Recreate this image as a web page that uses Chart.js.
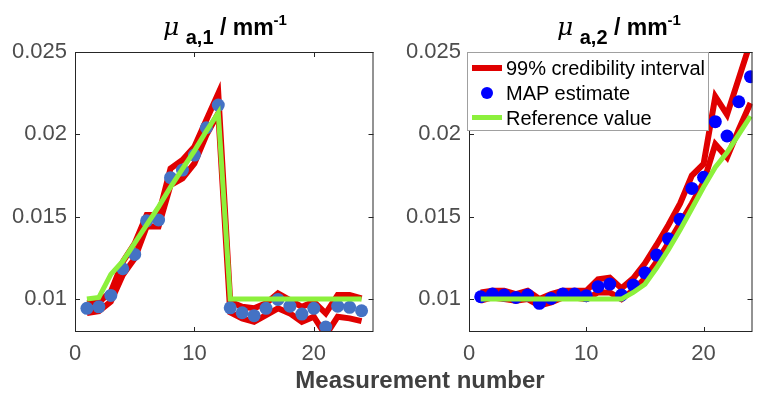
<!DOCTYPE html>
<html>
<head>
<meta charset="utf-8">
<script src="https://cdn.jsdelivr.net/npm/chart.js@4.4.0/dist/chart.umd.min.js"></script>
<style>
  html, body { margin: 0; padding: 0; background: #fff; }
  #wrap { position: relative; width: 759px; height: 395px; overflow: hidden; font-family: "Liberation Sans", Arial, sans-serif; }
  canvas { position: absolute; top: 0; }
  #leftChart { left: 0; }
  #rightChart { left: 380px; }
  .title { position: absolute; top: 11px; transform: translateX(-50%); font-weight: bold; font-size: 23px; color: #000; white-space: nowrap; }
  .title i { font-family: "DejaVu Serif", serif; font-weight: normal; font-size: 25px; }
  .title sub { font-size: 20px; vertical-align: -9px; }
  .title sup { font-size: 15px; vertical-align: 10px; }
  #xlabel { position: absolute; left: 420px; top: 366px; transform: translateX(-50%); font-weight: bold; font-size: 24px; color: #404040; white-space: nowrap; }
  #legend { position: absolute; left: 467px; top: 52px; width: 240px; height: 77px; border: 1px solid #a0a0a0; background: #fff; }
  .row { position: absolute; left: 0; height: 25px; width: 240px; }
  .row span { position: absolute; left: 38px; top: 1px; font-size: 20px; color: #000; white-space: nowrap; }
  .sample { position: absolute; left: 4px; width: 30px; }
</style>
</head>
<body>
<div id="wrap">
  <canvas id="leftChart" width="380" height="395"></canvas>
  <canvas id="rightChart" width="379" height="395"></canvas>
  <div class="title" style="left:225px"><i>μ</i> <sub>a,1</sub> / mm<sup>-1</sup></div>
  <div class="title" style="left:619px"><i>μ</i> <sub>a,2</sub> / mm<sup>-1</sup></div>
  <div id="xlabel">Measurement number</div>
  <div id="legend">
    <div class="row" style="top:3px"><div class="sample" style="top:9px;height:6px;background:#e00000"></div><span>99% credibility interval</span></div>
    <div class="row" style="top:28px"><div class="sample" style="top:6px;left:13px;width:12px;height:12px;border-radius:50%;background:#0000ff"></div><span>MAP estimate</span></div>
    <div class="row" style="top:53px"><div class="sample" style="top:9px;height:5px;background:#8cf03c"></div><span>Reference value</span></div>
  </div>
</div>
<script>
// measurement numbers
const measurement = [1, 2, 3, 4, 5, 6, 7, 8, 9, 10, 11, 12, 13, 14, 15, 16, 17, 18, 19, 20, 21, 22, 23, 24];

// mu_a,1
const mapLeft = [0.00944, 0.00953, 0.01022, 0.01184, 0.01271, 0.01475, 0.0148, 0.01737, 0.01783, 0.01874, 0.0204, 0.02178,
                 0.00947, 0.00917, 0.00899, 0.00944, 0.00998, 0.00957, 0.00909, 0.00944, 0.0083, 0.00957, 0.0095, 0.00929];
const upperLeft = [0.00976, 0.0098, 0.01044, 0.01226, 0.01338, 0.0151, 0.0151, 0.01793, 0.01844, 0.01925, 0.02087, 0.02249,
                   0.00984, 0.00953, 0.00944, 0.00974, 0.01035, 0.00994, 0.00953, 0.00984, 0.00913, 0.01024, 0.01024, 0.01004];
const lowerLeft = [0.00915, 0.00927, 0.00984, 0.01146, 0.01247, 0.0144, 0.0144, 0.01692, 0.01733, 0.01824, 0.01996, 0.02128,
                   0.00919, 0.00883, 0.00862, 0.00903, 0.00944, 0.00913, 0.00862, 0.00893, 0.0078, 0.00893, 0.00883, 0.00866];
const refLeft = [0.0100, 0.0101, 0.0115, 0.0123, 0.0134, 0.0145, 0.0156, 0.0168, 0.0179, 0.0190, 0.0202, 0.0213,
                 0.0100, 0.0100, 0.0100, 0.0100, 0.0100, 0.0100, 0.0100, 0.0100, 0.0100, 0.0100, 0.0100, 0.0100];

// mu_a,2
const mapRight = [0.01014, 0.0103, 0.01024, 0.0101, 0.01024, 0.00974, 0.01004, 0.0103, 0.0103, 0.0102, 0.01075, 0.01091,
                  0.01024, 0.01085, 0.0116, 0.01267, 0.01366, 0.01484, 0.01672, 0.01739, 0.02077, 0.0199, 0.02198, 0.0235];
const upperRight = [0.0104, 0.0105, 0.0105, 0.0103, 0.0105, 0.0100, 0.0103, 0.0105, 0.0105, 0.0105, 0.0112, 0.0113,
                    0.01065, 0.01126, 0.01217, 0.0133, 0.0145, 0.0158, 0.0175, 0.0182, 0.0223, 0.0212, 0.0234, 0.0256];
const lowerRight = [0.0099, 0.0101, 0.0100, 0.0099, 0.0100, 0.0096, 0.0098, 0.0101, 0.0101, 0.0100, 0.0104, 0.0104,
                    0.0100, 0.01055, 0.01126, 0.01226, 0.0134, 0.0146, 0.0158, 0.0171, 0.0194, 0.0186, 0.0203, 0.0219];
const refRight = [0.0100, 0.0100, 0.0100, 0.0100, 0.0100, 0.0100, 0.0100, 0.0100, 0.0100, 0.0100, 0.0100, 0.0100,
                  0.0100, 0.0104, 0.0109, 0.0119, 0.0130, 0.0142, 0.0155, 0.0168, 0.0180, 0.0189, 0.0200, 0.0211];

// axes
const xTicks = [0, 10, 20];
const xTickLabels = ['0', '10', '20'];
const yTicks = [0.01, 0.015, 0.02, 0.025];
const yTickLabels = ['0.01', '0.015', '0.02', '0.025'];

const RED = '#e00000';
const GREEN = '#8cf03c';

function pts(vals) {
    return measurement.map((m, i) => ({ x: m, y: vals[i] }));
}

// box around the plot with inward ticks on all sides
const axesBox = {
    id: 'axesBox',
    afterDraw(chart) {
        const { ctx, chartArea: a, scales: { x, y } } = chart;
        const len = 5;
        ctx.save();
        ctx.strokeStyle = '#262626';
        ctx.lineWidth = 1;
        ctx.strokeRect(a.left + 0.5, a.top + 0.5, a.right - a.left - 1, a.bottom - a.top - 1);
        ctx.beginPath();
        xTicks.forEach(v => {
            const px = Math.round(x.getPixelForValue(v)) + 0.5;
            ctx.moveTo(px, a.bottom);
            ctx.lineTo(px, a.bottom - len);
            ctx.moveTo(px, a.top);
            ctx.lineTo(px, a.top + len);
        });
        yTicks.forEach(v => {
            const py = Math.round(y.getPixelForValue(v)) + 0.5;
            ctx.moveTo(a.left, py);
            ctx.lineTo(a.left + len, py);
            ctx.moveTo(a.right, py);
            ctx.lineTo(a.right - len, py);
        });
        ctx.stroke();
        ctx.restore();
    }
};

function makeChart(id, upper, lower, map, ref, dotColor, opts) {
    const tickFont = { family: 'Liberation Sans', size: 22 };
    return new Chart(document.getElementById(id), {
        type: 'line',
        data: {
            datasets: [
                { data: pts(upper), borderColor: RED, borderWidth: 6, pointRadius: 0, fill: false, tension: 0, clip: 0, order: 2, borderJoinStyle: 'miter' },
                { data: pts(lower), borderColor: RED, borderWidth: 6, pointRadius: 0, fill: false, tension: 0, clip: 0, order: 2, borderJoinStyle: 'miter' },
                { data: pts(map), showLine: false, pointRadius: 6.5, pointBackgroundColor: dotColor, pointBorderWidth: 0, borderColor: dotColor, order: 1 },
                { data: pts(ref), borderColor: GREEN, borderWidth: 5, pointRadius: 0, fill: false, tension: 0, clip: 0, order: 0, borderJoinStyle: 'miter' }
            ]
        },
        options: {
            responsive: false,
            animation: false,
            events: [],
            layout: { padding: opts.padding },
            plugins: {
                legend: { display: false },
                tooltip: { enabled: false }
            },
            scales: {
                x: {
                    type: 'linear',
                    min: 0,
                    max: opts.xMax,
                    grid: { display: false, drawTicks: false },
                    border: { display: false },
                    afterBuildTicks: s => { s.ticks = xTicks.map(v => ({ value: v })); },
                    afterFit: s => { s.height = 63; },
                    ticks: {
                        padding: 9,
                        color: '#4d4d4d',
                        font: tickFont,
                        maxRotation: 0,
                        autoSkip: false,
                        callback: (v, i) => xTickLabels[i]
                    }
                },
                y: {
                    type: 'linear',
                    min: 0.008,
                    max: 0.025,
                    grid: { display: false, drawTicks: false },
                    border: { display: false },
                    afterBuildTicks: s => { s.ticks = yTicks.map(v => ({ value: v })); },
                    afterFit: s => { s.width = opts.yWidth; },
                    ticks: {
                        padding: 8,
                        color: '#4d4d4d',
                        font: tickFont,
                        autoSkip: false,
                        callback: (v, i) => yTickLabels[i]
                    }
                }
            }
        },
        plugins: [axesBox]
    });
}

makeChart('leftChart', upperLeft, lowerLeft, mapLeft, refLeft, '#4472c4',
    { xMax: 25, yWidth: 75, padding: { top: 52, left: 0, right: 5, bottom: 0 } });
makeChart('rightChart', upperRight, lowerRight, mapRight, refRight, '#0000ff',
    { xMax: 24.17, yWidth: 89, padding: { top: 52, left: 0, right: 0, bottom: 0 } });
</script>
</body>
</html>
